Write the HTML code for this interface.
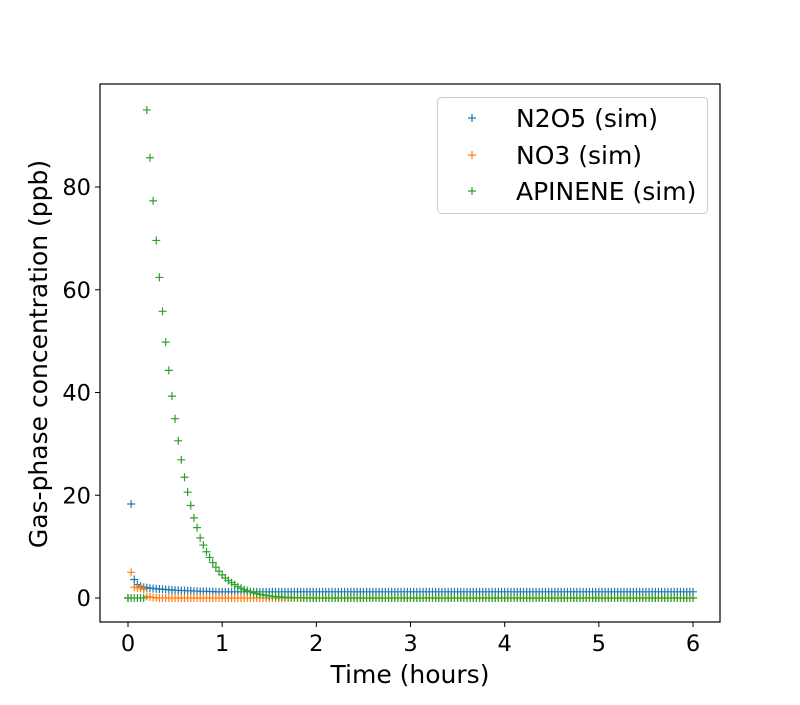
<!DOCTYPE html>
<html><head><meta charset="utf-8"><style>
body{margin:0;background:#fff}
svg text{font-family:"DejaVu Sans","Liberation Sans",sans-serif;fill:#000}
</style></head><body>
<svg id="chart" width="800" height="700" xmlns="http://www.w3.org/2000/svg">
<rect x="0" y="0" width="800" height="700" fill="#fff"/>
<g id="marks"></g>
<rect x="100" y="84" width="620" height="538" fill="none" stroke="#000" stroke-width="1.2"/>
<g id="axes"></g>
<text x="410" y="683" font-size="25" text-anchor="middle">Time (hours)</text>
<text transform="translate(47,354) rotate(-90)" font-size="25" text-anchor="middle">Gas-phase concentration (ppb)</text>
<g>
<rect x="437.5" y="97.5" width="270" height="116" rx="4" fill="#fff" stroke="#ccc" stroke-width="1"/>
<g><path d="M468 118h8M472 114v8" stroke="#1f77b4" stroke-width="1.2"/><text x="516" y="127" font-size="25">N2O5 (sim)</text></g>
<g><path d="M468 155h8M472 151v8" stroke="#ff7f0e" stroke-width="1.2"/><text x="516" y="164" font-size="25">NO3 (sim)</text></g>
<g><path d="M468 191h8M472 187v8" stroke="#2ca02c" stroke-width="1.2"/><text x="516" y="200" font-size="25">APINENE (sim)</text></g>
</g>
</svg>
<script>
const N = 181;
const xTicks = [0,1,2,3,4,5,6];
const yTicks = [0,20,40,60,80];
const n2o5Head = [0,18.3,3.6,2.6,2.3,2.1,2.0,1.9,1.85,1.8,1.75,1.7,1.65,1.6,1.55,1.5,1.5,1.45,1.45,1.4,1.4,1.35,1.35,1.3,1.3,1.3,1.25,1.25];
const no3Head = [0,5.0,2.1,2.0,1.9,1.7,0.3,0.2,0.1,0.05];
const apineneHead = [0,0,0,0,0,0,95,85.7,77.3,69.6,62.4,55.8,49.8,44.3,39.3,34.9,30.6,26.9,23.5,20.6,18,15.6,13.7,11.7,10.3,9.0,7.9,6.9,6.0,5.2,4.5,3.9,3.4,3.0,2.6,2.2,1.9,1.6,1.4,1.2,1.0,0.85,0.72,0.6,0.5,0.42,0.35,0.3,0.25,0.2,0.16,0.13,0.1,0.08,0.06,0.05,0.04,0.03,0.02,0.01];
const n2o5Tail = 1.2, no3Tail = 0, apineneTail = 0;
const times = [];
for (let i=0;i<N;i++) times.push(i/30);
function series(head, tail){ const a=head.slice(); while(a.length<N) a.push(tail); return a; }
const n2o5 = series(n2o5Head, n2o5Tail);
const no3 = series(no3Head, no3Tail);
const apinene = series(apineneHead, apineneTail);
const X = t => 128 + t*94.17;
const Y = v => 598 - v*5.1375;
const NS='http://www.w3.org/2000/svg';
const axes=document.getElementById('axes');
xTicks.forEach(t=>{
  const l=document.createElementNS(NS,'line');
  l.setAttribute('x1',X(t));l.setAttribute('x2',X(t));l.setAttribute('y1',622);l.setAttribute('y2',627);l.setAttribute('stroke','#000');
  
  
  axes.appendChild(l);
  const tx=document.createElementNS(NS,'text');
  tx.setAttribute('x',X(t));tx.setAttribute('y',651);tx.setAttribute('font-size','22.5');tx.setAttribute('text-anchor','middle');
  tx.textContent=t;
  
  
  axes.appendChild(tx);
});
yTicks.forEach(v=>{
  const l=document.createElementNS(NS,'line');
  l.setAttribute('x1',95);l.setAttribute('x2',100);l.setAttribute('y1',Y(v));l.setAttribute('y2',Y(v));l.setAttribute('stroke','#000');
  
  
  axes.appendChild(l);
  const tx=document.createElementNS(NS,'text');
  tx.setAttribute('x',91);tx.setAttribute('y',Y(v)+8);tx.setAttribute('font-size','22.5');tx.setAttribute('text-anchor','end');
  tx.textContent=v;
  
  
  axes.appendChild(tx);
});
const marks=document.getElementById('marks');
function draw(vals,color,name){
  const g=document.createElementNS(NS,'path');
  let d='';
  vals.forEach((v,i)=>{const x=X(times[i]),y=Y(v);d+=`M${x-4} ${y}h8M${x} ${y-4}v8`;});
  g.setAttribute('d',d);g.setAttribute('stroke',color);g.setAttribute('stroke-width','1.2');g.setAttribute('fill','none');
  
  
  marks.appendChild(g);
}
draw(n2o5,'#1f77b4','n2o5-series');
draw(no3,'#ff7f0e','no3-series');
draw(apinene,'#2ca02c','apinene-series');
</script>
</body></html>
